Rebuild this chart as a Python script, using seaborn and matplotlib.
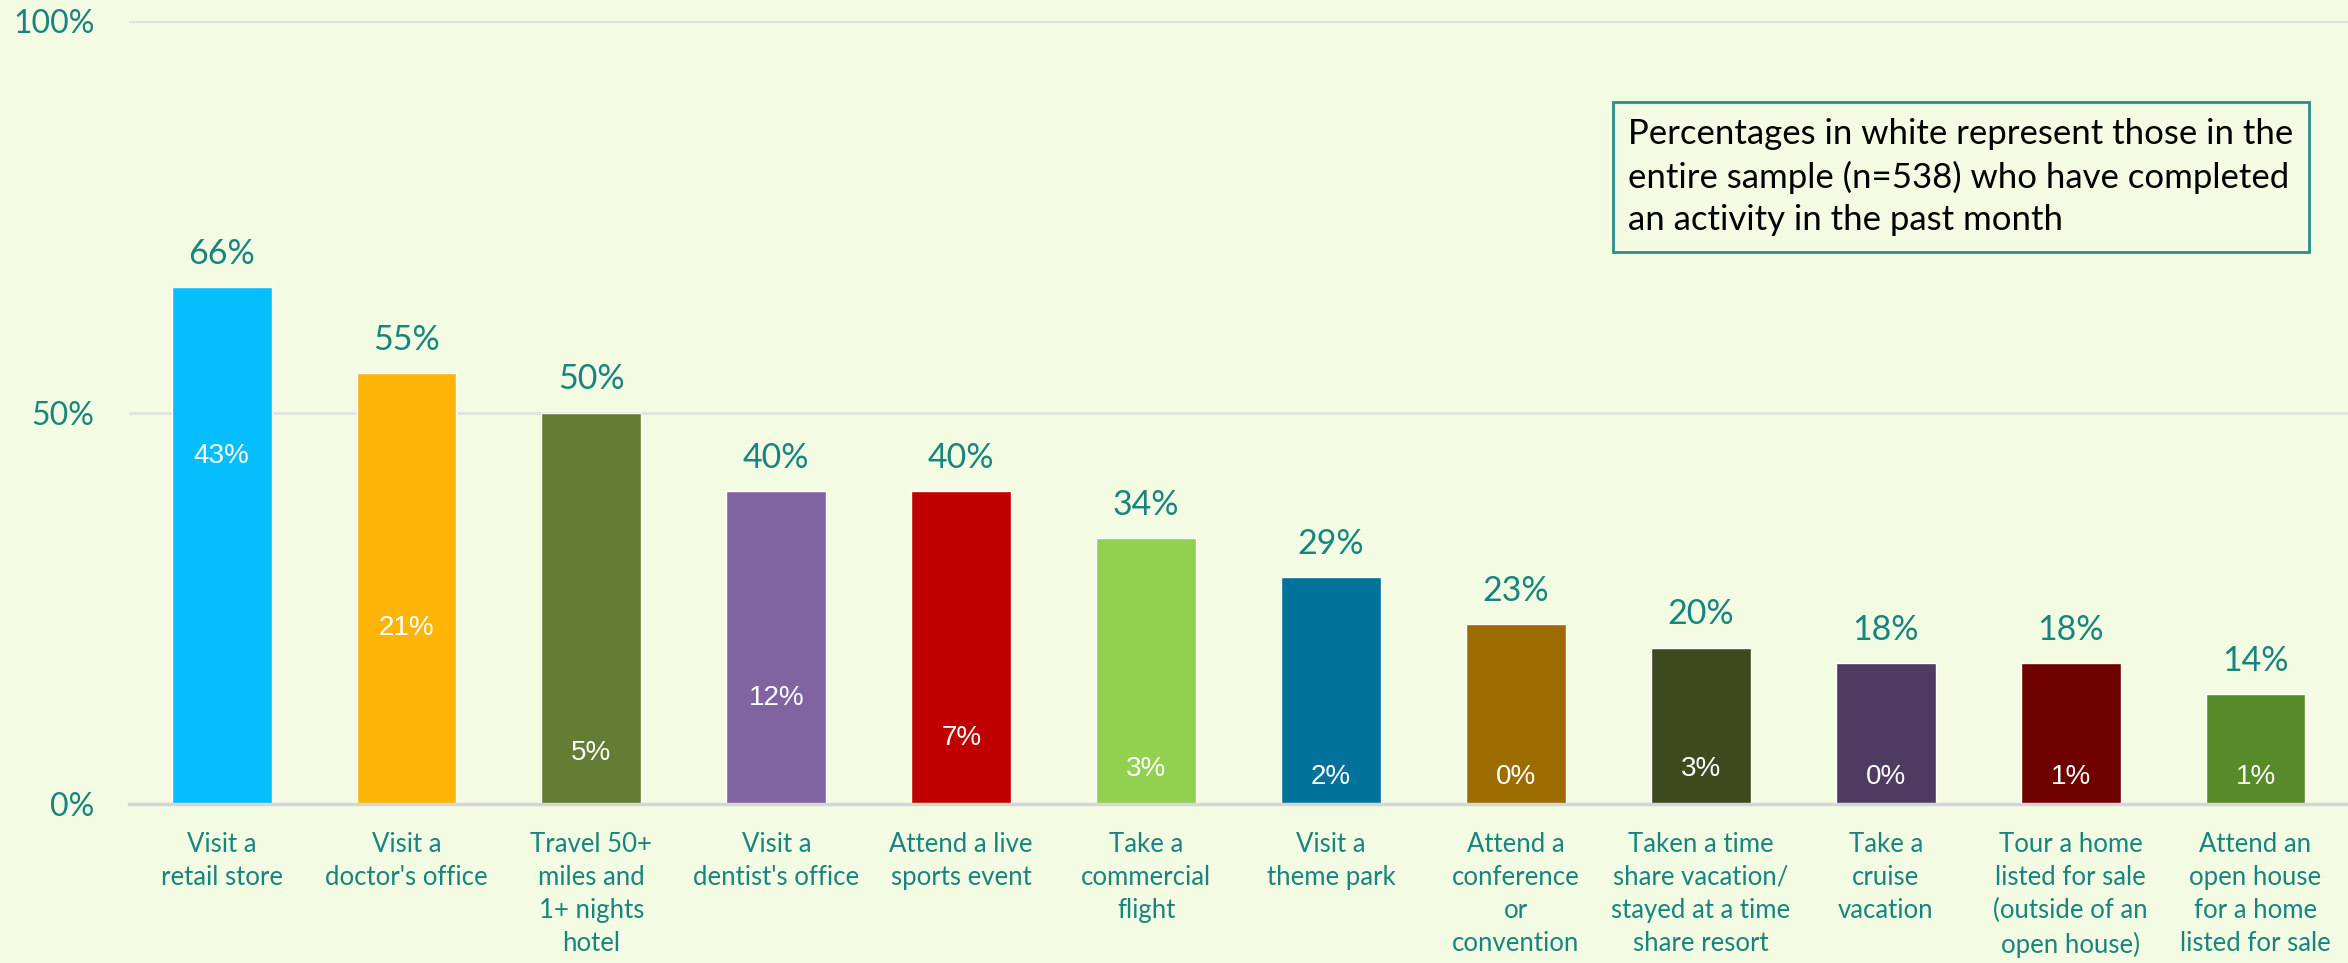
import pandas as pd
import matplotlib.pyplot as plt
import seaborn as sns

# Activities, share who completed each in the past month (among doers) and in the whole sample
activities = [
    "Visit a\nretail store",
    "Visit a\ndoctor's office",
    "Travel 50+\nmiles and\n1+ nights\nhotel",
    "Visit a\ndentist's office",
    "Attend a live\nsports event",
    "Take a\ncommercial\nflight",
    "Visit a\ntheme park",
    "Attend a\nconference\nor\nconvention",
    "Taken a time\nshare vacation/\nstayed at a time\nshare resort",
    "Take a\ncruise\nvacation",
    "Tour a home\nlisted for sale\n(outside of an\nopen house)",
    "Attend an\nopen house\nfor a home\nlisted for sale",
]
pct_activity = [66, 55, 50, 40, 40, 34, 29, 23, 20, 18, 18, 14]
pct_sample = [43, 21, 5, 12, 7, 3, 2, 0, 3, 0, 1, 1]
bar_colors = ["#04BEFE", "#FFB508", "#647C33", "#8064A2", "#C00000", "#92D050",
              "#00729C", "#9C6C00", "#3C4A1E", "#4F3A61", "#6E0000", "#578A28"]

BG = "#F3FBE3"
TEAL = "#16857F"

df = pd.DataFrame({"Activity": activities, "Pct": pct_activity})

sns.set_style("white")
plt.rcParams['font.family'] = ['Lato', 'DejaVu Sans']

fig = plt.figure(figsize=(23.48, 9.63), dpi=100)
fig.patch.set_facecolor(BG)
ax = fig.add_axes([0.055, 0.165, 0.945, 0.813])
ax.set_facecolor(BG)

sns.barplot(data=df, x="Activity", y="Pct", hue="Activity", palette=bar_colors,
            legend=False, width=0.54, saturation=1, ax=ax)

ax.set_ylim(0, 100)
ax.set_xlim(-0.5, len(activities) - 0.5)
ax.set_yticks([0, 50, 100])
ax.set_yticklabels(["0%", "50%", "100%"], fontsize=23, color=TEAL)
ax.yaxis.grid(True, color="#E2E2E2", linewidth=2)
ax.set_axisbelow(True)
for s in ["top", "right", "left"]:
    ax.spines[s].set_visible(False)
ax.spines["bottom"].set_color("#D6D6D6")
ax.spines["bottom"].set_linewidth(2.5)
ax.tick_params(axis="both", length=0)
ax.tick_params(axis="y", pad=25)
ax.tick_params(axis="x", pad=20)
for lbl in ax.get_xticklabels():
    lbl.set_fontsize(18.5)
    lbl.set_color(TEAL)
    lbl.set_linespacing(1.4)
ax.set_xlabel("")
ax.set_ylabel("")

# Labels above bars (teal) and inside bars (white)
for i, (v, s) in enumerate(zip(pct_activity, pct_sample)):
    ax.annotate(f"{v}%", (i, v), xytext=(0, 24), textcoords="offset points",
                ha="center", va="center", fontsize=24.5, color=TEAL)
    ax.text(i, max(s, 2) + 1.5, f"{s}%", ha="center", va="center",
            fontsize=20, color="white", family=["Liberation Sans", "DejaVu Sans"])

# Note box
fig.text(0.6935, 0.816,
         "Percentages in white represent those in the\nentire sample (n=538) who have completed\nan activity in the past month",
         ha="left", va="center", fontsize=25, color="black", linespacing=1.4,
         bbox=dict(boxstyle="square,pad=0.45", facecolor=BG, edgecolor="#2A8F8A", linewidth=2))

plt.savefig("out.png", dpi=100, facecolor=BG)
